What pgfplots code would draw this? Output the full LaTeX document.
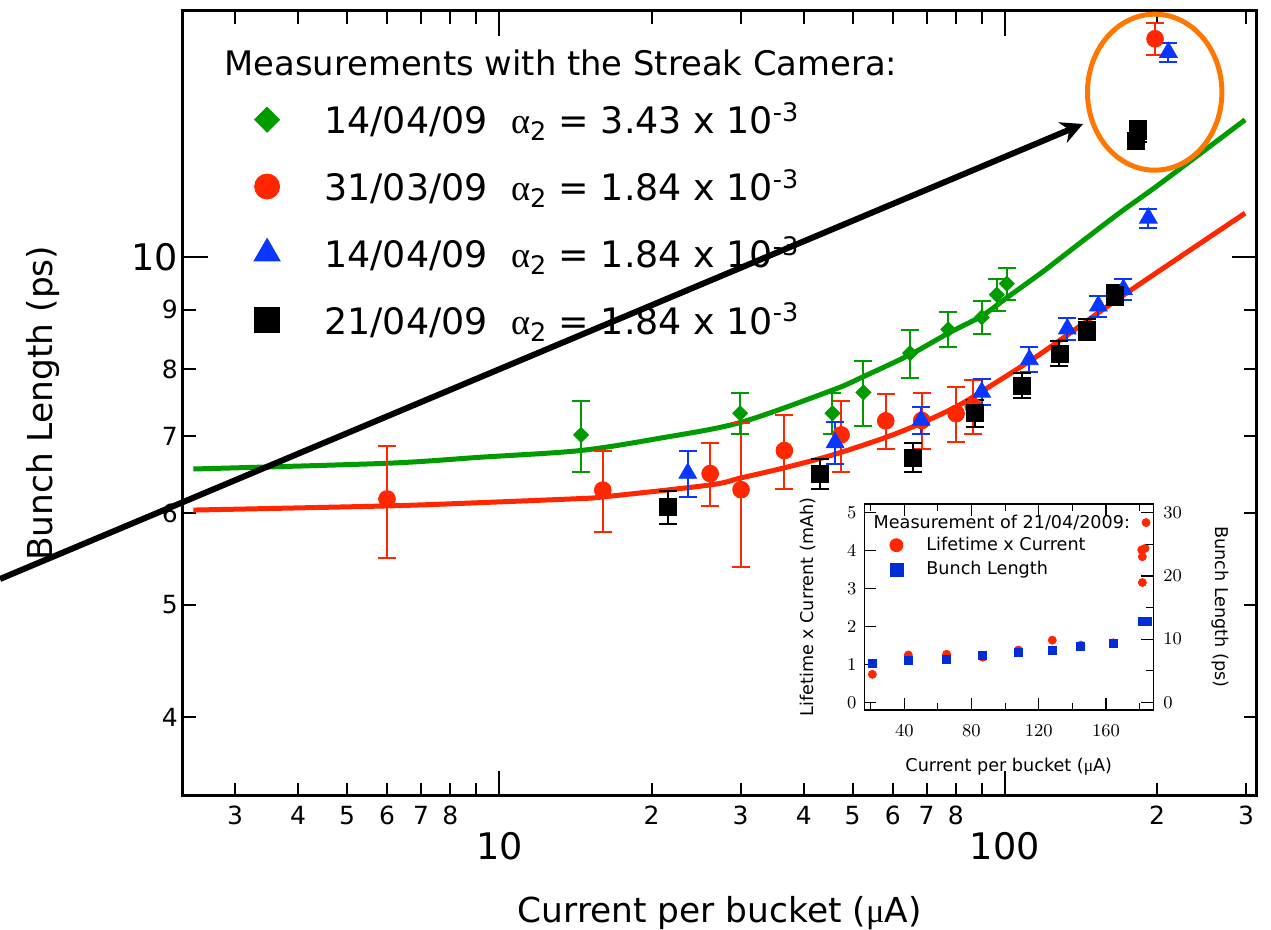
\documentclass[border=0pt]{standalone}
\usepackage{fontspec}
\setmainfont{DejaVu Sans}
\newfontfamily\symfont{Liberation Serif}
\usepackage{pgfplots}
\usepackage{pgfplotstable}
\pgfplotsset{compat=1.18}
\usetikzlibrary{arrows.meta}

\definecolor{cgreen}{RGB}{0,155,0}
\definecolor{cred}{RGB}{255,38,0}
\definecolor{cblue}{RGB}{10,55,255}
\definecolor{corange}{RGB}{255,119,0}
\definecolor{iblue}{RGB}{0,45,215}

\newcommand{\fA}{\fontsize{12.5}{14}\selectfont}
\newcommand{\fB}{\fontsize{18.3}{20}\selectfont}
\newcommand{\fL}{\fontsize{18.2}{20}\selectfont}
\newcommand{\fT}{\fontsize{16.9}{20}\selectfont}
\newcommand{\fX}{\fontsize{17.2}{20}\selectfont}
\newcommand{\fI}{\fontsize{8.8}{10}\selectfont}
\newcommand{\al}{{\symfont α}\textsubscript{2}}
\newcommand{\muu}{{\symfont μ}}

\pgfplotstableread{
x y e
14.51 7.015 0.495
29.94 7.325 0.295
45.60 7.325 0.295
52.51 7.635 0.495
64.93 8.255 0.395
77.3 8.655 0.305
90.0 8.865 0.285
96.4 9.275 0.295
100.9 9.48 0.30
}\greendata

\pgfplotstableread{
x y e
5.995 6.175 0.685
16.02 6.285 0.505
26.12 6.495 0.405
30.07 6.29 0.90
36.63 6.80 0.50
47.42 7.015 0.495
58.13 7.215 0.395
68.48 7.22 0.40
80.08 7.32 0.40
86.6 7.425 0.395
198.2 15.44 0.49
}\reddata

\pgfplotstableread{
x y e
23.59 6.50 0.30
46.15 6.91 0.29
68.3 7.225 0.195
90.0 7.64 0.20
111.8 8.15 0.20
132.9 8.665 0.195
153.1 9.07 0.19
171.6 9.375 0.195
192.2 10.805 0.205
210.6 15.03 0.29
}\bluedata

\pgfplotstableread{
x y e
21.53 6.075 0.205
43.1 6.495 0.195
65.7 6.705 0.195
87.3 7.325 0.195
108.3 7.74 0.19
128.2 8.25 0.20
145.6 8.655 0.185
165.2 9.27 0.19
181.3 12.61 0.20
183.0 12.84 0.28
}\blackdata

\pgfplotstableread{
x y
21.0 0.74
42.4 1.25
65.2 1.27
86.7 1.19
107.9 1.38
128.1 1.64
128.1 1.38
145.1 1.51
164.4 1.57
181.7 3.16
181.7 3.84
181.3 4.02
183.3 4.06
183.9 4.74
}\insetred

\pgfplotstableread{
x y
21.0 6.17
42.4 6.58
65.2 6.86
86.7 7.44
107.9 7.85
128.1 8.28
145.1 8.80
164.4 9.34
181.7 12.76
184.5 12.87
}\insetblue

\begin{document}
\begin{tikzpicture}
\useasboundingbox (-91.35pt,-67.15pt) rectangle (544.15pt,397.85pt);
\begin{axis}[
  at={(0pt,0pt)}, anchor=south west, scale only axis,
  width=537pt, height=392.35pt,
  xmode=log, ymode=log,
  xmin=2.364, xmax=314.9, ymin=3.42, ymax=16.32,
  axis line style={line width=1.5pt},
  every tick/.style={black, line width=1pt},
  tick align=inside,
  major tick length=6.5pt, minor tick length=6.5pt,
  xtick={3,4,5,6,7,8,9,10,20,30,40,50,60,70,80,90,100,200,300},
  xticklabels={3,4,5,6,7,8,,{\raisebox{-17.5pt}{\fB 10}},2,3,4,5,6,7,8,,{\raisebox{-17.5pt}{\fB 100}},2,3},
  ytick={4,5,6,7,8,9,10},
  yticklabels={4,5,6,7,8,9,{\fB 10\hspace{7.8pt}}},
  extra x ticks={10,100}, extra x tick labels={},
  extra y ticks={10}, extra y tick labels={},
  extra tick style={major tick length=12.5pt},
  xticklabel style={font=\fA, anchor=base, inner sep=0pt, yshift=-14.65pt},
  yticklabel style={font=\fA, anchor=east, inner sep=0pt, xshift=-2.2pt},
  xlabel={Current per bucket (\muu A)},
  ylabel={Bunch Length (ps)},
  every axis x label/.style={at={(axis description cs:0.5,0)}, anchor=base, yshift=-63.5pt, inner sep=0pt, font=\fX},
  every axis y label/.style={at={(axis description cs:-0.1208,0.5)}, rotate=90, anchor=base, inner sep=0pt, font=\fX},
  legend style={at={(axis description cs:0.05214,0.7337)}, anchor=west, draw=none, fill=none,
    inner sep=0pt, font=\fL, row sep=16.2pt, column sep=14.65pt, nodes={inner sep=0pt}},
  legend cell align=left,
  legend image code/.code={\path[draw=none, fill=none] (-14pt,-8pt) rectangle (14pt,8pt); \draw[#1] plot coordinates {(0pt,0pt)};},
]
\addlegendimage{cgreen, mark=square*, mark size=4.42pt, mark options={rotate=45}}
\addlegendentry{14/04/09~\ \al\ = 3.43 x 10\textsuperscript{-3}}
\addlegendimage{cred, mark=*, mark size=6.25pt}
\addlegendentry{31/03/09~\ \al\ = 1.84 x 10\textsuperscript{-3}}
\addlegendimage{cblue, mark=triangle*, mark size=7.5pt}
\addlegendentry{14/04/09~\ \al\ = 1.84 x 10\textsuperscript{-3}}
\addlegendimage{black, mark=square*, mark size=6.25pt}
\addlegendentry{21/04/09~\ \al\ = 1.84 x 10\textsuperscript{-3}}

\addplot[forget plot, cgreen, line width=2.5pt, smooth, tension=0.5] coordinates {
(2.481,6.555) (5.99,6.63) (9.16,6.71) (14.44,6.80) (20.8,6.97) (29.94,7.19)
(45.6,7.67) (52.5,7.88) (64.9,8.23) (77.3,8.59) (90.0,8.89) (100.9,9.22)
(117.4,9.67) (128.6,9.97) (166.4,10.87) (202.8,11.57) (298.7,13.14)};
\addplot[forget plot, cred, line width=2.5pt, smooth, tension=0.5] coordinates {
(2.481,6.04) (5.99,6.09) (9.16,6.13) (14.44,6.18) (16.02,6.20) (26.12,6.35)
(30.07,6.44) (36.6,6.57) (45.6,6.74) (58.1,6.98) (68.3,7.18) (80.1,7.42)
(90.0,7.65) (117.4,8.24) (166.4,9.18) (222.1,10.0) (298.7,10.91)};

\addplot[forget plot, only marks, cred, mark=*, mark size=4.2pt,
  error bars/.cd, y dir=both, y explicit,
  error bar style={line width=1pt, cred},
  error mark options={rotate=90, cred, mark size=4.5pt, line width=1pt}]
  table[x=x, y=y, y error=e] {\reddata};
\addplot[forget plot, only marks, cgreen, mark=square*, mark size=2.65pt, mark options={rotate=45},
  error bars/.cd, y dir=both, y explicit,
  error bar style={line width=1pt, cgreen},
  error mark options={rotate=90, cgreen, mark size=4.5pt, line width=1pt}]
  table[x=x, y=y, y error=e] {\greendata};
\addplot[forget plot, only marks, cblue, mark=triangle*, mark size=5.1pt,
  error bars/.cd, y dir=both, y explicit,
  error bar style={line width=1pt, cblue},
  error mark options={rotate=90, cblue, mark size=4.5pt, line width=1pt}]
  table[x=x, y=y, y error=e] {\bluedata};
\addplot[forget plot, only marks, black, mark=square*, mark size=4.25pt,
  error bars/.cd, y dir=both, y explicit,
  error bar style={line width=1pt, black},
  error mark options={rotate=90, black, mark size=4.5pt, line width=1pt}]
  table[x=x, y=y, y error=e] {\blackdata};
\end{axis}

% inset, left axis
\begin{axis}[
  at={(340.8pt,42.85pt)}, anchor=south west, scale only axis,
  width=144.5pt, height=103pt,
  xmin=16.2, xmax=188.2, ymin=-0.2, ymax=5.23,
  axis line style={line width=0.7pt},
  every tick/.style={black, line width=0.6pt},
  tick align=inside, major tick length=6pt, minor tick length=3.5pt,
  xtick={40,80,120,160}, minor xtick={20,60,100,140,180},
  ytick={0,1,2,3,4,5}, ytick pos=left,
  xticklabel style={font=\fI, anchor=north, inner sep=0pt, yshift=-7.15pt},
  yticklabel style={font=\fI, anchor=east, inner sep=0pt, xshift=-3.8pt},
  xlabel={Current per bucket (\muu A)},
  ylabel={Lifetime x Current (mAh)},
  every axis x label/.style={at={(axis description cs:0.5,0)}, anchor=base, yshift=-30.85pt, inner sep=0pt, font=\fI},
  every axis y label/.style={at={(axis description cs:-0.1758,0.5)}, rotate=90, anchor=base, inner sep=0pt, font=\fI},
]
\addplot[only marks, cred, mark=*, mark size=2pt] table[x=x, y=y] {\insetred};
\end{axis}

% inset, right axis
\begin{axis}[
  at={(340.8pt,42.85pt)}, anchor=south west, scale only axis,
  width=144.5pt, height=103pt,
  xmin=16.2, xmax=188.2, ymin=-1.2, ymax=31.38,
  hide x axis, axis y line*=right,
  axis line style={line width=0.7pt},
  every tick/.style={black, line width=0.6pt},
  tick align=inside, major tick length=6pt, minor tick length=3.5pt,
  ytick={0,10,20,30}, minor ytick={5,15,25},
  yticklabel style={font=\fI, anchor=west, inner sep=0pt, xshift=4.85pt},
  ylabel={Bunch Length (ps)},
  every axis y label/.style={at={(axis description cs:1.2135,0.5)}, rotate=-90, anchor=base, inner sep=0pt, font=\fI},
  legend style={at={(axis description cs:0.0578,0.7403)}, anchor=west, draw=none, fill=none,
    inner sep=0pt, font=\fI, row sep=4.1pt, column sep=7.5pt, nodes={inner sep=0pt}},
  legend cell align=left,
  legend image code/.code={\path[draw=none, fill=none] (-7.5pt,-4pt) rectangle (7.5pt,4pt); \draw[#1] plot coordinates {(0pt,0pt)};},
]
\addlegendimage{cred, mark=*, mark size=3.25pt}
\addlegendentry{Lifetime x Current}
\addlegendimage{iblue, mark=square*, mark size=3.25pt}
\addlegendentry{Bunch Length}
\addplot[forget plot, only marks, iblue, mark=square*, mark size=2pt] table[x=x, y=y] {\insetblue};
\end{axis}

\node[anchor=base west, inner sep=0pt, font=\fI] at (345.3pt,133.35pt) {Measurement of 21/04/2009:};
\node[anchor=base west, inner sep=0pt, font=\fT] at (20.65pt,359.85pt) {Measurements with the Streak Camera:};

\draw[corange, line width=2.5pt] (486pt,351.75pt) ellipse [x radius=33.6pt, y radius=39pt];
\draw[black, line width=3pt, -{Stealth[length=11pt, width=11pt]}] (-91.35pt,108.35pt) -- (450.15pt,335.85pt);
\end{tikzpicture}
\end{document}
